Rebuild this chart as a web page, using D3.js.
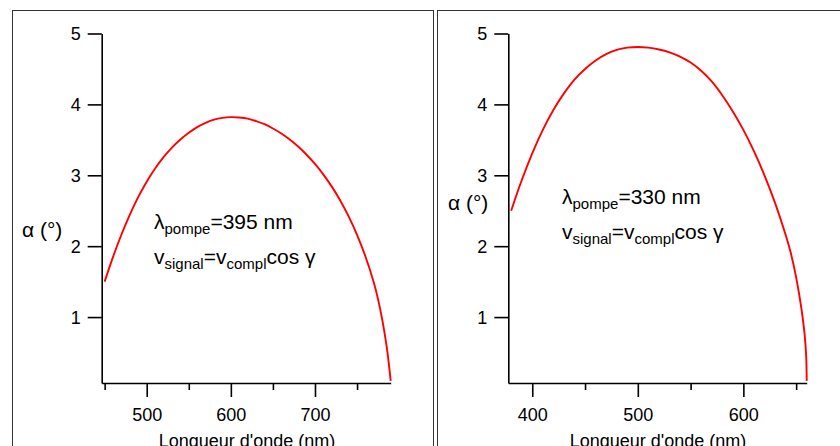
<!DOCTYPE html>
<html>
<head>
<meta charset="utf-8">
<script src="https://cdn.jsdelivr.net/npm/d3@7"></script>
<style>
  html, body { margin: 0; padding: 0; background: #fff; }
  svg { display: block; }
  text { font-family: "Liberation Sans", Arial, Helvetica, sans-serif; fill: #000; }
</style>
</head>
<body>
<svg id="chart" width="840" height="446"></svg>
<script>
// ---- Data ----
const leftWavelength = [450,460,470,480,490,500,510,520,530,540,550,560,570,580,590,600,610,620,630,640,650,660,670,680,690,700,710,720,730,740,750,760,770,775,780,785,788,790];
const leftAlpha      = [1.50,1.85,2.165,2.445,2.695,2.91,3.095,3.255,3.39,3.505,3.60,3.68,3.74,3.785,3.81,3.82,3.815,3.80,3.765,3.72,3.66,3.59,3.505,3.405,3.29,3.16,3.01,2.84,2.645,2.42,2.16,1.855,1.485,1.25,0.96,0.60,0.32,0.10];

const rightWavelength = [380,390,400,410,420,430,440,450,460,470,480,490,500,510,520,530,540,550,560,570,580,590,600,610,620,630,640,645,650,655,658,659.5,660];
const rightAlpha      = [2.50,2.93,3.31,3.64,3.92,4.155,4.35,4.50,4.62,4.71,4.77,4.80,4.81,4.80,4.775,4.735,4.675,4.59,4.475,4.325,4.13,3.90,3.64,3.34,3.00,2.61,2.16,1.90,1.56,1.12,0.76,0.45,0.10];

const yTicks = [1,2,3,4,5];
const leftMajorTicks = [500,600,700];
const leftMinorTicks = [450,550,650,750];
const rightMajorTicks = [400,500,600];
const rightMinorTicks = [450,550,650];

const xTitle = "Longueur d'onde (nm)";
const yTitle = "α (°)";
const leftPump = "395 nm";
const rightPump = "330 nm";

// ---- Drawing ----
const svg = d3.select("#chart");

svg.append("rect").attr("x",12.5).attr("y",10.5).attr("width",421).attr("height",450)
  .attr("fill","none").attr("stroke","#333").attr("stroke-width",1);
svg.append("rect").attr("x",437.5).attr("y",10.5).attr("width",420).attr("height",450)
  .attr("fill","none").attr("stroke","#333").attr("stroke-width",1);

function panel(cfg) {
  const g = svg.append("g");
  const x = d3.scaleLinear().domain(cfg.xDomain).range(cfg.xRange);
  const y = d3.scaleLinear().domain([0.07, 5]).range([383, 33.5]);

  const ya = g.append("g").attr("transform", `translate(${cfg.xRange[0]},0)`)
    .call(d3.axisLeft(y).tickValues(yTicks).tickSize(14).tickSizeOuter(0).tickPadding(7).tickFormat(d3.format("d")));
  const xa = g.append("g").attr("transform", `translate(0,383)`)
    .call(d3.axisBottom(x).tickValues(cfg.major).tickSize(14).tickSizeOuter(0).tickPadding(11).tickFormat(d3.format("d")));
  const xm = g.append("g").attr("transform", `translate(0,383)`)
    .call(d3.axisBottom(x).tickValues(cfg.minor).tickSize(7).tickSizeOuter(0).tickFormat(""));
  xm.select(".domain").remove();

  [ya, xa, xm].forEach(a => {
    a.selectAll("path,line").attr("stroke","#000").attr("stroke-width",1.6);
    a.selectAll("text").style("font-size","18px").attr("fill","#000");
  });
  ya.selectAll(".tick text").attr("dy","0.36em");

  const data = cfg.wl.map((w,i) => [w, cfg.al[i]]);
  g.append("path").datum(data)
    .attr("fill","none").attr("stroke","#ff0000").attr("stroke-width",1.9)
    .attr("d", d3.line().x(d => x(d[0])).y(d => y(d[1])).curve(d3.curveCatmullRom.alpha(0.5)));

  g.append("text").attr("x", cfg.xTitleX).attr("y", 447).attr("text-anchor","middle")
    .style("font-size","18px").text(xTitle);
  g.append("text").attr("x", cfg.yTitleX).attr("y", cfg.yTitleY)
    .style("font-size","21px").text(yTitle);

  const t1 = g.append("text").attr("x", cfg.annX).attr("y", cfg.annY).style("font-size","21px");
  t1.append("tspan").text("λ");
  t1.append("tspan").attr("dy",5).style("font-size","15px").text("pompe");
  t1.append("tspan").attr("dy",-5).text("=" + cfg.pump);

  const t2 = g.append("text").attr("x", cfg.annX).attr("y", cfg.annY + 35).style("font-size","21px");
  t2.append("tspan").text("v");
  t2.append("tspan").attr("dy",5).style("font-size","15px").text("signal");
  t2.append("tspan").attr("dy",-5).text("=v");
  t2.append("tspan").attr("dy",5).style("font-size","15px").text("compl");
  t2.append("tspan").attr("dy",-5).text("cos γ");
}

panel({
  xDomain: [446.5, 790], xRange: [101.7, 390.7],
  major: leftMajorTicks, minor: leftMinorTicks,
  wl: leftWavelength, al: leftAlpha, pump: leftPump,
  xTitleX: 247, yTitleX: 22, yTitleY: 237, annX: 154, annY: 229
});
panel({
  xDomain: [377.3, 660], xRange: [508.3, 806.7],
  major: rightMajorTicks, minor: rightMinorTicks,
  wl: rightWavelength, al: rightAlpha, pump: rightPump,
  xTitleX: 658, yTitleX: 448, yTitleY: 210, annX: 562, annY: 204
});
</script>
</body>
</html>
